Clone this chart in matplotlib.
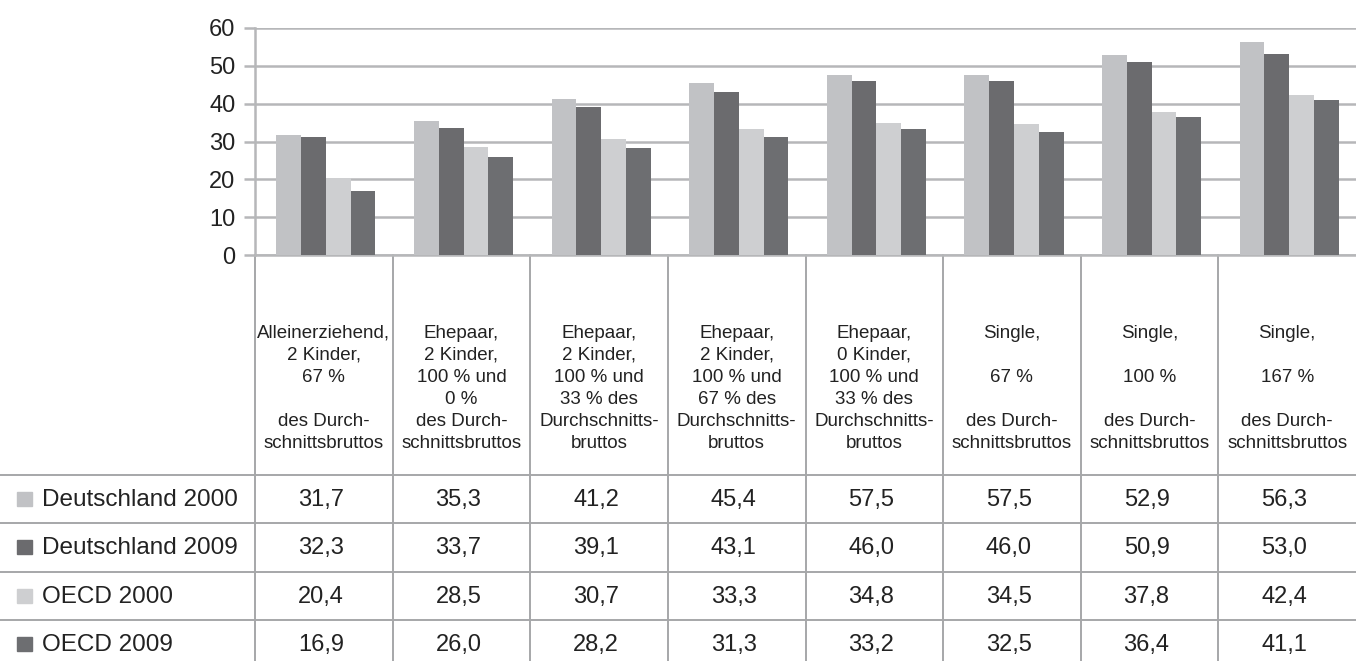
import numpy as np
import matplotlib
matplotlib.use('Agg')
import matplotlib.pyplot as plt

plt.rcParams['font.family'] = ['Liberation Sans', 'DejaVu Sans']

# --- data -------------------------------------------------------------
series = ['Deutschland 2000', 'Deutschland 2009', 'OECD 2000', 'OECD 2009']
de2000 = [31.7, 35.3, 41.2, 45.4, 47.5, 47.5, 52.9, 56.3]
de2009 = [31.3, 33.7, 39.1, 43.1, 46.0, 46.0, 50.9, 53.0]
oecd2000 = [20.4, 28.5, 30.7, 33.3, 34.8, 34.5, 37.8, 42.4]
oecd2009 = [16.9, 26.0, 28.2, 31.3, 33.2, 32.5, 36.4, 41.1]

# values as printed in the table (the printed table differs in two cells)
tab_de2000 = ['31,7', '35,3', '41,2', '45,4', '57,5', '57,5', '52,9', '56,3']
tab_de2009 = ['32,3', '33,7', '39,1', '43,1', '46,0', '46,0', '50,9', '53,0']
tab_oecd2000 = ['20,4', '28,5', '30,7', '33,3', '34,8', '34,5', '37,8', '42,4']
tab_oecd2009 = ['16,9', '26,0', '28,2', '31,3', '33,2', '32,5', '36,4', '41,1']

categories = [
    ['Alleinerziehend,', '2 Kinder,', '67 %', '', 'des Durch-', 'schnittsbruttos'],
    ['Ehepaar,', '2 Kinder,', '100 % und', '0 %', 'des Durch-', 'schnittsbruttos'],
    ['Ehepaar,', '2 Kinder,', '100 % und', '33 % des', 'Durchschnitts-', 'bruttos'],
    ['Ehepaar,', '2 Kinder,', '100 % und', '67 % des', 'Durchschnitts-', 'bruttos'],
    ['Ehepaar,', '0 Kinder,', '100 % und', '33 % des', 'Durchschnitts-', 'bruttos'],
    ['Single,', '', '67 %', '', 'des Durch-', 'schnittsbruttos'],
    ['Single,', '', '100 %', '', 'des Durch-', 'schnittsbruttos'],
    ['Single,', '', '167 %', '', 'des Durch-', 'schnittsbruttos'],
]
yticks = [0, 10, 20, 30, 40, 50, 60]

# --- layout (pixels) --------------------------------------------------
W, H = 1356, 661
colors = ['#c1c2c5', '#6b6b6e', '#cecfd1', '#6d6e71']
grid_col = '#b6b7b9'
line_col = '#a6a7a9'
left = 255
col_w = (W - left) / 8
col_edges = [left + col_w * k for k in range(9)]
row_lines = [475, 523, 572, 620]

fig = plt.figure(figsize=(W / 100, H / 100), dpi=100)

# table layer in pixel coordinates
tab = fig.add_axes([0, 0, 1, 1])
tab.set_xlim(0, W)
tab.set_ylim(H, 0)
tab.axis('off')

ax_top, ax_bot = 28, 255
ax = fig.add_axes([left / W, 1 - ax_bot / H, (W - left) / W, (ax_bot - ax_top) / H])
ax.patch.set_alpha(0)

x = np.arange(len(de2000))
w = 0.18
for i, vals in enumerate([de2000, de2009, oecd2000, oecd2009]):
    ax.bar(x + 0.015 + (i - 1.5) * w, vals, width=w, color=colors[i], zorder=3)

ax.set_xlim(-0.5, 7.5)
ax.set_ylim(0, 60)
ax.set_yticks(yticks)
ax.set_yticklabels([str(t) for t in yticks], fontsize=17, color='#222222')
ax.set_xticks([])
ax.grid(axis='y', color=grid_col, linewidth=1.8, zorder=0)
for s in ['top', 'right', 'bottom']:
    ax.spines[s].set_visible(False)
ax.spines['left'].set_color(grid_col)
ax.spines['left'].set_linewidth(1.8)
ax.tick_params(axis='y', length=8, width=1.8, color=grid_col, pad=6)

# table grid
for xe in col_edges[:-1]:
    tab.plot([xe, xe], [ax_bot, H], color=line_col, lw=1.4)
tab.plot([left, W], [ax_bot, ax_bot], color=grid_col, lw=1.8)
for yl in row_lines:
    tab.plot([0, W], [yl, yl], color=line_col, lw=1.4)

# header texts
for c, lines in enumerate(categories):
    cx = (col_edges[c] + col_edges[c + 1]) / 2
    for k, t in enumerate(lines):
        tab.text(cx, 333 + 22.0 * k, t, ha='center', va='center',
                 fontsize=13.5, color='#222222')

# rows
rows = [tab_de2000, tab_de2009, tab_oecd2000, tab_oecd2009]
for r, (name, vals) in enumerate(zip(series, rows)):
    yc = row_lines[r] + 25
    tab.add_patch(plt.Rectangle((17, yc - 8), 15, 14, color=colors[r]))
    tab.text(42, yc, name, ha='left', va='center', fontsize=17.5, color='#222222')
    for c, v in enumerate(vals):
        cx = (col_edges[c] + col_edges[c + 1]) / 2 - 3
        tab.text(cx, yc, v, ha='center', va='center', fontsize=17, color='#222222')

plt.savefig('out.png', dpi=100, facecolor='white')
